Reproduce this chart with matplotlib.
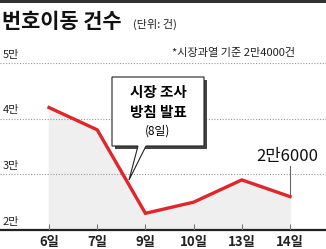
import numpy as np
import matplotlib.pyplot as plt
from matplotlib.patches import Polygon, Rectangle

plt.rcParams['font.family'] = ['Noto Sans CJK KR', 'DejaVu Sans']

# data
days = ['6일', '7일', '9일', '10일', '13일', '14일']
counts = [42000, 38000, 23000, 25000, 29000, 26000]
ytick_vals = [20000, 30000, 40000, 50000]
ytick_labels = ['2만', '3만', '4만', '5만']
last_label = '2만6000'

W, H = 326, 249
fig = plt.figure(figsize=(W / 100, H / 100), dpi=100)

# axes layout in pixels (y from top)
y_bot, y_top = 230, 63
ax = fig.add_axes([0, (H - y_bot) / H, 1, (y_bot - y_top) / H])
x0px, step = 49, 48.2
ax.set_xlim(-x0px / step, (W - x0px) / step)
ax.set_ylim(20000, 50000)
ax.axis('off')

def px_x(p):
    return (p - x0px) / step

def px_y(p):
    return 20000 + (y_bot - p) / (y_bot - y_top) * 30000

x = np.arange(len(days))

# shaded area + grid
ax.fill_between(x, counts, 20000, color='#efefef', zorder=1)
for v, lab in zip(ytick_vals, ytick_labels):
    if v == 20000:
        ax.axhline(v, color='#222222', lw=1.6, zorder=3, clip_on=False)
    else:
        ax.axhline(v, color='#999999', lw=0.8, ls=(0, (1, 1.5)), zorder=2)
    ax.text(px_x(3), v + 600, lab, fontsize=8, fontweight='medium',
            ha='left', va='bottom', color='#222222')

# ticks and labels
ax.vlines(x, 20000, 21100, color='#777777', lw=0.8, zorder=3)
for xi, d in zip(x, days):
    ax.text(xi, px_y(242), d, fontsize=9.5, fontweight='bold', ha='center',
            va='center', color='#222222', clip_on=False)

# line
ax.plot(x, counts, color='#e0262a', lw=2.4, zorder=4, solid_joinstyle='miter')

# last value label
ax.plot([x[-1], x[-1]], [counts[-1], px_y(166)], color='#666666', lw=0.8, zorder=3)
ax.text(x[-1] - 0.05, px_y(156), last_label, fontsize=12, fontweight='medium',
        ha='center', va='center', color='#111111')

# callout box
bx0, bx1, by0, by1 = px_x(112), px_x(204), px_y(146), px_y(77)
sh_x, sh_y = 3 / step, 3 / (y_bot - y_top) * 30000
ax.add_patch(Rectangle((bx0 + sh_x, by0 - sh_y), bx1 - bx0, by1 - by0,
                       facecolor='#444444', edgecolor='none', zorder=5))
shape = [(bx0, by1), (bx1, by1), (bx1, by0), (px_x(146), by0),
         (px_x(129), px_y(180)), (px_x(138), by0), (bx0, by0)]
ax.add_patch(Polygon(shape, closed=True, facecolor='white',
                     edgecolor='#222222', lw=0.8, zorder=6))
cx = (bx0 + bx1) / 2
ax.text(cx, px_y(92), '시장 조사', fontsize=10.5, fontweight='bold',
        ha='center', va='center', zorder=7)
ax.text(cx, px_y(112), '방침 발표', fontsize=10.5, fontweight='bold',
        ha='center', va='center', zorder=7)
ax.text(cx, px_y(131), '(8일)', fontsize=8.5, fontweight='medium',
        ha='center', va='center', zorder=7)

# title and notes
fig.patches.append(Rectangle((0, 1 - 3 / H), 1, 3 / H, transform=fig.transFigure,
                             facecolor='#333333', edgecolor='none'))
fig.text(2 / W, 1 - 22 / H, '번호이동 건수', fontsize=15, fontweight='black',
         ha='left', va='center', color='#111111')
fig.text(133 / W, 1 - 24 / H, '(단위: 건)', fontsize=8, ha='left',
         va='center', color='#222222')
fig.text(295 / W, 1 - 53 / H, '*시장과열 기준 2만4000건', fontsize=8,
         fontweight='medium', ha='right', va='center', color='#222222')

fig.savefig('out.png', dpi=100)
